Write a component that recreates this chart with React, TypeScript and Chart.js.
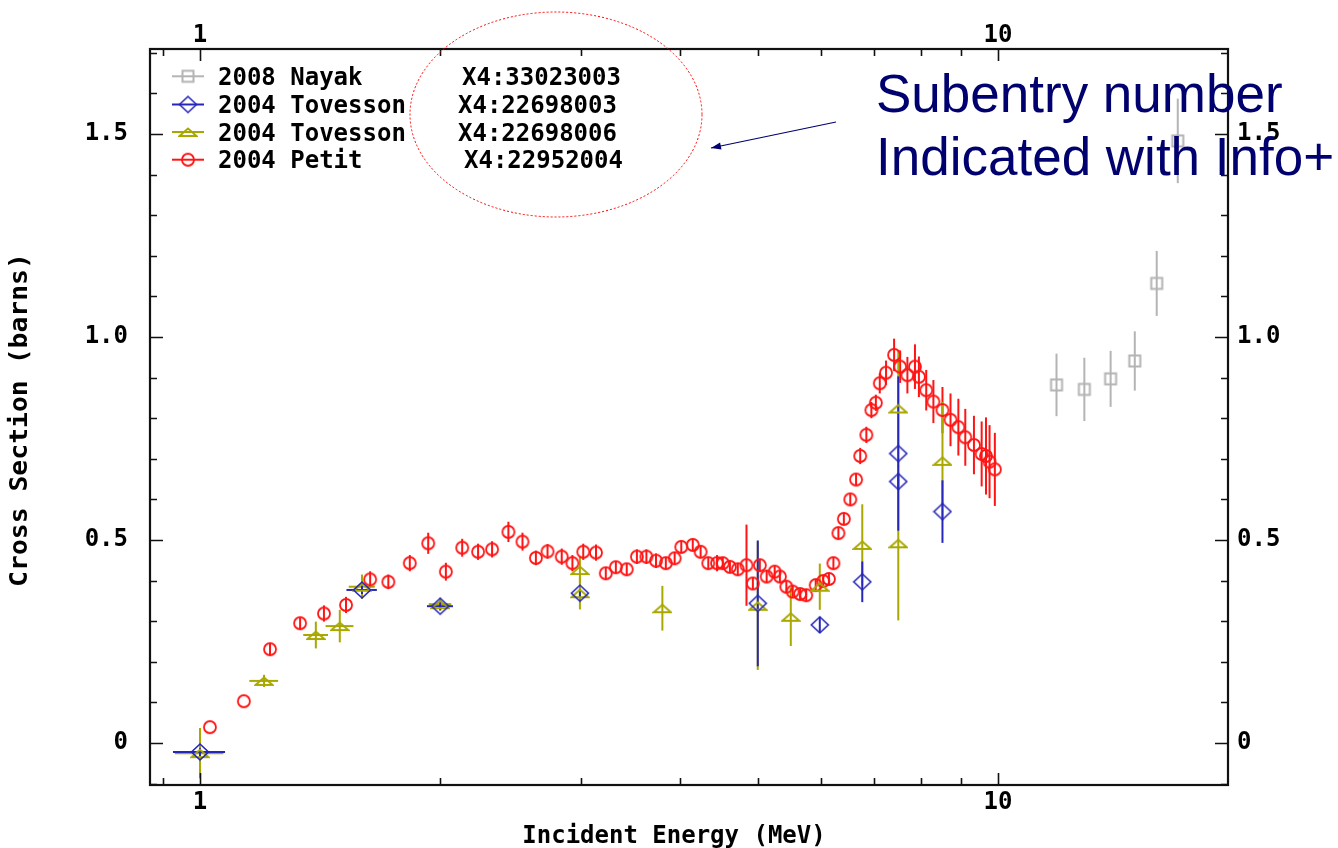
import React, { useEffect, useRef } from 'react';
import { Chart, registerables } from 'chart.js';

Chart.register(...registerables);

// ---------------- data ----------------
const NAYAK_E = [11.84, 12.83, 13.84, 14.84, 15.81, 16.8];
const NAYAK_XS = [0.882, 0.871, 0.897, 0.941, 1.132, 1.483];
const NAYAK_DY = [0.077, 0.078, 0.069, 0.073, 0.08, 0.104];

const TOV3_E = [1.0, 1.596, 2.0, 2.993, 5.0, 5.98, 6.76, 7.5, 7.5, 8.52];
const TOV3_XS = [-0.022, 0.377, 0.337, 0.369, 0.344, 0.291, 0.397, 0.713, 0.644, 0.57];
const TOV3_DY = [0.01, 0.01, 0.01, 0.01, 0.155, 0.02, 0.05, 0.19, 0.02, 0.077];
const TOV3_DX = [0.075, 0.07, 0.075, 0, 0, 0, 0, 0, 0, 0];

const TOV6_E = [1.0, 1.203, 1.397, 1.497, 1.596, 2.0, 2.993, 2.993, 3.797, 5.0, 5.5, 5.98, 6.76, 7.5, 7.5, 8.52];
const TOV6_XS = [-0.025, 0.153, 0.266, 0.288, 0.385, 0.342, 0.426, 0.369, 0.332, 0.338, 0.311, 0.385, 0.488, 0.824, 0.492, 0.695];
const TOV6_DY = [0.062, 0.015, 0.033, 0.04, 0.03, 0.016, 0.033, 0.04, 0.055, 0.158, 0.072, 0.057, 0.1, 0.144, 0.19, 0.145];
const TOV6_DX = [0.07, 0.05, 0.05, 0.06, 0.06, 0.065, 0, 0, 0, 0, 0, 0, 0, 0, 0, 0];

const PETIT_E = [
  1.029, 1.135, 1.224, 1.335, 1.43, 1.524, 1.634, 1.722, 1.832, 1.932,
  2.033, 2.131, 2.231, 2.323, 2.435, 2.536, 2.636, 2.726, 2.84, 2.929,
  3.022, 3.135, 3.225, 3.32, 3.426, 3.528, 3.626, 3.728, 3.835, 3.934,
  4.01, 4.145, 4.24, 4.335, 4.446, 4.52, 4.614, 4.72, 4.84, 4.93,
  5.03, 5.13, 5.25, 5.33, 5.43, 5.53, 5.65, 5.75, 5.91, 6.04,
  6.14, 6.22, 6.31, 6.41, 6.53, 6.64, 6.72, 6.84, 6.94, 7.03,
  7.11, 7.24, 7.41, 7.54, 7.7, 7.87, 7.96, 8.13, 8.3, 8.52,
  8.72, 8.92, 9.1, 9.33, 9.54, 9.66, 9.76, 9.91,
];
const PETIT_XS = [
  0.039, 0.103, 0.231, 0.295, 0.319, 0.34, 0.403, 0.397, 0.443, 0.492,
  0.422, 0.481, 0.471, 0.477, 0.52, 0.496, 0.456, 0.472, 0.459, 0.443,
  0.471, 0.469, 0.418, 0.433, 0.428, 0.459, 0.459, 0.449, 0.443, 0.455,
  0.483, 0.488, 0.471, 0.443, 0.443, 0.443, 0.434, 0.428, 0.438, 0.393,
  0.438, 0.41, 0.422, 0.41, 0.385, 0.373, 0.367, 0.364, 0.389, 0.399,
  0.404, 0.443, 0.517, 0.552, 0.6, 0.649, 0.707, 0.759, 0.82, 0.838,
  0.886, 0.912, 0.956, 0.927, 0.906, 0.927, 0.902, 0.869, 0.841, 0.82,
  0.796, 0.778, 0.753, 0.734, 0.712, 0.707, 0.693, 0.674,
];
const PETIT_DY = [
  0, 0, 0.015, 0.015, 0.02, 0.02, 0.02, 0.018, 0.02, 0.026,
  0.022, 0.022, 0.02, 0.02, 0.025, 0.022, 0.018, 0.018, 0.02, 0.02,
  0.02, 0.02, 0.015, 0.015, 0.015, 0.018, 0.018, 0.018, 0.015, 0.015,
  0.015, 0.015, 0.015, 0.015, 0.02, 0.015, 0.015, 0.015, 0.1, 0.015,
  0.015, 0.015, 0.015, 0.015, 0.015, 0.015, 0.015, 0.015, 0.015, 0.015,
  0.015, 0.015, 0.015, 0.015, 0.015, 0.015, 0.02, 0.02, 0.02, 0.02,
  0.025, 0.03, 0.04, 0.04, 0.045, 0.055, 0.05, 0.05, 0.053, 0.057,
  0.065, 0.07, 0.07, 0.072, 0.08, 0.095, 0.09, 0.09,
];

const SERIES_LABELS = ['2008 Nayak', '2004 Tovesson', '2004 Tovesson', '2004 Petit'];
const SERIES_X4 = ['X4:33023003', 'X4:22698003', 'X4:22698006', 'X4:22952004'];
const SERIES_COLORS = ['#b4b4b4', '#2626b8', '#a8a800', '#ff1414'];
const SERIES_MARKERS = ['square', 'diamond', 'triangle', 'circle'];

const X_MIN = 0.8657;
const X_MAX = 19.42;
const Y_MIN = -0.1034;
const Y_MAX = 1.7094;
const X_LABEL_TICKS = [1, 10];
const X_MINOR_TICKS = [0.9, 2, 3, 4, 5, 6, 7, 8, 9];
const Y_LABEL_TICKS = [0, 0.5, 1.0, 1.5];
const Y_MINOR_TICKS = [-0.1, 0.1, 0.2, 0.3, 0.4, 0.6, 0.7, 0.8, 0.9, 1.1, 1.2, 1.3, 1.4, 1.6, 1.7];

const X_TITLE = 'Incident Energy (MeV)';
const Y_TITLE = 'Cross Section (barns)';
const NOTE_LINES = ['Subentry number', 'Indicated with Info+'];

// ---------------- styling ----------------
const MONO = '"DejaVu Sans Mono", "Liberation Mono", monospace';
const MONO_SIZE = 24;
const NOTE_COLOR = '#00006e';

function makeMarker(kind: string, color: string): HTMLCanvasElement {
  const c = document.createElement('canvas');
  if (kind === 'circle') { c.width = 16; c.height = 16; }
  else if (kind === 'diamond') { c.width = 20; c.height = 20; }
  else if (kind === 'square') { c.width = 16; c.height = 16; }
  else { c.width = 20; c.height = 12; }
  const ctx = c.getContext('2d')!;
  ctx.strokeStyle = color;
  ctx.lineWidth = 1.8;
  ctx.beginPath();
  if (kind === 'circle') {
    ctx.arc(8, 8, 6, 0, Math.PI * 2);
  } else if (kind === 'diamond') {
    ctx.lineWidth = 1.6;
    ctx.moveTo(10, 2);
    ctx.lineTo(18.5, 10);
    ctx.lineTo(10, 18);
    ctx.lineTo(1.5, 10);
    ctx.closePath();
  } else if (kind === 'square') {
    ctx.lineWidth = 2;
    ctx.rect(2.5, 2.5, 11, 11);
  } else {
    ctx.moveTo(1.5, 10);
    ctx.lineTo(18.5, 10);
    ctx.lineTo(10, 2.5);
    ctx.closePath();
  }
  ctx.stroke();
  return c;
}

const errorBarPlugin = {
  id: 'errorBars',
  beforeDatasetsDraw(chart: any) {
    const { ctx, chartArea, scales } = chart;
    const xs = scales.x;
    const ys = scales.y;
    ctx.save();
    ctx.beginPath();
    ctx.rect(chartArea.left, chartArea.top, chartArea.right - chartArea.left, chartArea.bottom - chartArea.top);
    ctx.clip();
    const drawOrder = [0, 3, 2, 1];
    drawOrder.forEach((di) => {
      const ds = chart.data.datasets[di];
      ctx.strokeStyle = ds.borderColor;
      ctx.lineWidth = 2;
      ds.data.forEach((p: any, j: number) => {
        const px = xs.getPixelForValue(p.x);
        const py = ys.getPixelForValue(p.y);
        const dy = ds.errY ? ds.errY[j] : 0;
        const dx = ds.errX ? ds.errX[j] : 0;
        if (dy > 0) {
          ctx.beginPath();
          ctx.moveTo(px, ys.getPixelForValue(p.y - dy));
          ctx.lineTo(px, ys.getPixelForValue(p.y + dy));
          ctx.stroke();
        }
        if (dx > 0) {
          ctx.beginPath();
          ctx.moveTo(xs.getPixelForValue(p.x - dx), py);
          ctx.lineTo(xs.getPixelForValue(p.x + dx), py);
          ctx.stroke();
        }
      });
    });
    ctx.restore();
  },
};

const decorPlugin = {
  id: 'decor',
  afterDraw(chart: any) {
    const { ctx, chartArea, scales } = chart;
    const { left, right, top, bottom } = chartArea;
    const xs = scales.x;
    const ys = scales.y;
    ctx.save();

    // frame
    ctx.strokeStyle = '#111';
    ctx.lineWidth = 2.2;
    ctx.strokeRect(left, top, right - left, bottom - top);

    // inward ticks
    ctx.lineWidth = 1.6;
    const xTick = (v: number, len: number) => {
      const px = Math.round(xs.getPixelForValue(v)) + 0.5;
      ctx.beginPath();
      ctx.moveTo(px, bottom); ctx.lineTo(px, bottom - len);
      ctx.moveTo(px, top); ctx.lineTo(px, top + len);
      ctx.stroke();
    };
    X_MINOR_TICKS.forEach((v) => xTick(v, 7));
    X_LABEL_TICKS.forEach((v) => xTick(v, 12));
    const yTick = (v: number, len: number) => {
      const py = Math.round(ys.getPixelForValue(v)) + 0.5;
      ctx.beginPath();
      ctx.moveTo(left, py); ctx.lineTo(left + len, py);
      ctx.moveTo(right, py); ctx.lineTo(right - len, py);
      ctx.stroke();
    };
    Y_MINOR_TICKS.forEach((v) => yTick(v, 7));
    Y_LABEL_TICKS.forEach((v) => yTick(v, 13));

    // axis titles
    ctx.fillStyle = '#000';
    ctx.font = `bold ${MONO_SIZE}px ${MONO}`;
    ctx.textAlign = 'center';
    ctx.textBaseline = 'middle';
    ctx.fillText(X_TITLE, 674, 837);
    ctx.save();
    ctx.translate(21, 420);
    ctx.rotate(-Math.PI / 2);
    ctx.scale(1.1, 1);
    ctx.fillText(Y_TITLE, 0, 0);
    ctx.restore();

    // legend
    const rowY = [76.3, 104.5, 132, 159.7];
    const x4X = [462, 458, 458, 464];
    ctx.textAlign = 'left';
    ctx.textBaseline = 'alphabetic';
    chart.data.datasets.forEach((ds: any, i: number) => {
      const y = rowY[i];
      ctx.strokeStyle = ds.borderColor;
      ctx.lineWidth = 2;
      ctx.beginPath();
      ctx.moveTo(172, y); ctx.lineTo(204, y);
      ctx.stroke();
      const img = ds.pointStyle as HTMLCanvasElement;
      ctx.drawImage(img, 188 - img.width / 2, y - img.height / 2);
      ctx.fillStyle = '#000';
      ctx.fillText(SERIES_LABELS[i], 218, y + 8.6);
      ctx.fillText(SERIES_X4[i], x4X[i], y + 8.6);
    });

    // dotted ellipse
    ctx.strokeStyle = '#ff0000';
    ctx.lineWidth = 1;
    ctx.setLineDash([2, 2]);
    ctx.beginPath();
    ctx.ellipse(556, 114.5, 146, 102.5, 0, 0, Math.PI * 2);
    ctx.stroke();
    ctx.setLineDash([]);

    // arrow
    ctx.strokeStyle = NOTE_COLOR;
    ctx.fillStyle = NOTE_COLOR;
    ctx.lineWidth = 1.2;
    const x1 = 836, y1 = 122, x2 = 711, y2 = 148;
    ctx.beginPath();
    ctx.moveTo(x1, y1); ctx.lineTo(x2, y2);
    ctx.stroke();
    const ang = Math.atan2(y2 - y1, x2 - x1);
    ctx.beginPath();
    ctx.moveTo(x2, y2);
    ctx.lineTo(x2 - 10 * Math.cos(ang) + 3.5 * Math.sin(ang), y2 - 10 * Math.sin(ang) - 3.5 * Math.cos(ang));
    ctx.lineTo(x2 - 10 * Math.cos(ang) - 3.5 * Math.sin(ang), y2 - 10 * Math.sin(ang) + 3.5 * Math.cos(ang));
    ctx.closePath();
    ctx.fill();

    // note text
    ctx.font = '53px "Liberation Sans", Arial, sans-serif';
    ctx.textAlign = 'left';
    ctx.textBaseline = 'alphabetic';
    ctx.fillText(NOTE_LINES[0], 876, 111.5);
    ctx.fillText(NOTE_LINES[1], 876, 174.5);

    ctx.restore();
  },
};

function toPoints(e: number[], s: number[]) {
  return e.map((x, i) => ({ x, y: s[i] }));
}

export default function App() {
  const ref = useRef<HTMLCanvasElement>(null);

  useEffect(() => {
    const canvas = ref.current!;
    const markers = SERIES_MARKERS.map((k, i) => makeMarker(k, SERIES_COLORS[i]));
    const tickFont = { family: MONO, size: MONO_SIZE, weight: 'bold' as const, lineHeight: 1 };

    const xCommon = {
      type: 'logarithmic' as const,
      min: X_MIN,
      max: X_MAX,
      bounds: 'data' as const,
      grid: { display: false, drawTicks: false },
      border: { display: false },
      afterBuildTicks: (s: any) => { s.ticks = X_LABEL_TICKS.map((v) => ({ value: v })); },
    };
    const yCommon = {
      type: 'linear' as const,
      min: Y_MIN,
      max: Y_MAX,
      bounds: 'data' as const,
      grid: { display: false, drawTicks: false },
      border: { display: false },
      afterBuildTicks: (s: any) => { s.ticks = Y_LABEL_TICKS.map((v) => ({ value: v })); },
    };
    const xLabel = (v: any) => (Number(v) === 1 ? '1' : '10');
    const yLabel = (v: any) => (Number(v) === 0 ? '0' : Number(v).toFixed(1));

    const chart = new Chart(canvas, {
      type: 'scatter',
      data: {
        datasets: [
          { label: SERIES_LABELS[0], data: toPoints(NAYAK_E, NAYAK_XS), errY: NAYAK_DY },
          { label: SERIES_LABELS[1], data: toPoints(TOV3_E, TOV3_XS), errY: TOV3_DY, errX: TOV3_DX },
          { label: SERIES_LABELS[2], data: toPoints(TOV6_E, TOV6_XS), errY: TOV6_DY, errX: TOV6_DX },
          { label: SERIES_LABELS[3], data: toPoints(PETIT_E, PETIT_XS), errY: PETIT_DY },
        ].map((d: any, i) => ({
          ...d,
          borderColor: SERIES_COLORS[i],
          backgroundColor: SERIES_COLORS[i],
          pointStyle: markers[i],
          pointRadius: 8,
          showLine: false,
        })) as any,
      },
      options: {
        animation: false,
        responsive: false,
        maintainAspectRatio: false,
        devicePixelRatio: 1,
        layout: { padding: 0, autoPadding: false } as any,
        plugins: { legend: { display: false }, tooltip: { enabled: false } },
        scales: {
          x: {
            ...xCommon,
            position: 'bottom',
            afterFit: (s: any) => { s.height = 63; },
            ticks: { callback: xLabel, font: tickFont, color: '#000', padding: 6, maxRotation: 0, autoSkip: false },
          },
          x2: {
            ...xCommon,
            position: 'top',
            afterFit: (s: any) => { s.height = 49; },
            ticks: { callback: xLabel, font: tickFont, color: '#000', padding: 1, maxRotation: 0, autoSkip: false },
          },
          y: {
            ...yCommon,
            position: 'left',
            afterFit: (s: any) => { s.width = 150; },
            ticks: { callback: yLabel, font: tickFont, color: '#000', padding: 22, autoSkip: false },
          },
          y2: {
            ...yCommon,
            position: 'right',
            afterFit: (s: any) => { s.width = 110; },
            ticks: { callback: yLabel, font: tickFont, color: '#000', padding: 9, autoSkip: false },
          },
        } as any,
      },
      plugins: [errorBarPlugin, decorPlugin],
    });

    return () => chart.destroy();
  }, []);

  return (
    <div style={{ position: 'fixed', left: 0, top: 0, width: 1338, height: 848, background: '#fff' }}>
      <canvas ref={ref} width={1338} height={848} style={{ display: 'block', width: 1338, height: 848 }} />
    </div>
  );
}
